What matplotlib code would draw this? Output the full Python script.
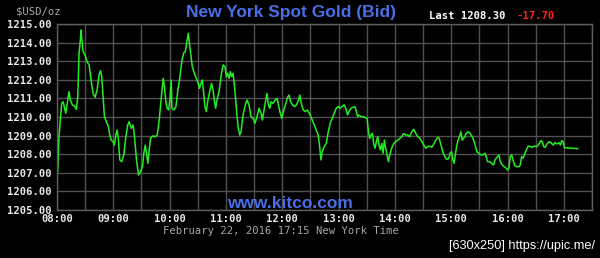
import matplotlib
matplotlib.use('Agg')
import matplotlib.pyplot as plt
from matplotlib.ticker import MultipleLocator, FuncFormatter

# Spot gold bid, minutes after 08:00 (New York time) and price in USD/oz
minutes = [0.7, 2.1, 5.0, 6.4, 7.8, 9.3, 10.7, 12.8, 14.2, 16.4, 18.5, 20.6, 22.1, 23.5, 24.9, 25.6,
           26.3, 27.8, 29.9, 32.0, 34.2, 36.3, 38.4, 40.6, 42.7, 44.8, 46.3, 47.7, 49.1, 50.5, 52.7,
           54.8, 56.2, 57.7, 59.8, 61.2, 62.6, 64.1, 65.5, 66.9, 69.0, 71.2, 73.3, 75.4, 76.9, 79.0,
           81.1, 82.6, 84.7, 86.8, 89.0, 91.1, 92.5, 94.0, 95.4, 96.8, 98.2, 99.6, 101.8, 104.6, 106.8,
           108.9, 111.0, 113.2, 114.6, 116.0, 117.4, 118.9, 120.3, 121.7, 122.4, 124.6, 126.7, 128.8,
           131.0, 133.1, 135.2, 136.7, 138.4, 139.9, 141.3, 142.7, 144.1, 146.3, 148.4, 150.5, 151.9,
           153.4, 154.8, 156.2, 157.6, 159.1, 160.5, 162.6, 164.7, 166.2, 167.6, 169.0, 170.5, 172.6,
           174.7, 176.9, 179.0, 180.4, 181.8, 183.3, 184.7, 186.1, 187.5, 189.0, 190.4, 191.8, 193.2,
           194.7, 196.1, 197.5, 198.9, 201.1, 202.4, 204.6, 206.7, 208.9, 211.0, 213.1, 215.3, 217.4,
           218.8, 220.9, 222.4, 223.8, 225.2, 226.7, 228.1, 230.2, 232.4, 234.5, 235.9, 237.4, 239.5,
           241.6, 243.8, 245.9, 247.3, 248.8, 250.9, 253.0, 255.2, 257.3, 258.7, 260.2, 262.3, 264.4,
           266.6, 269.8, 271.9, 274.1, 276.2, 278.3, 279.7, 281.2, 282.6, 284.7, 286.9, 289.0, 291.1,
           293.3, 295.4, 297.5, 299.7, 301.8, 304.0, 306.1, 308.2, 309.6, 311.1, 313.2, 315.3, 317.5,
           318.9, 320.3, 321.7, 323.9, 326.0, 328.2, 330.3, 331.7, 333.1, 334.6, 336.0, 337.4, 338.8,
           340.3, 341.7, 343.1, 344.5, 346.0, 347.4, 348.8, 350.2, 351.6, 353.1, 354.5, 356.6, 358.8,
           360.9, 363.0, 365.2, 367.3, 369.4, 371.6, 373.7, 375.8, 378.0, 380.1, 382.2, 384.4, 386.5,
           388.7, 390.8, 392.9, 395.1, 397.2, 399.3, 401.5, 403.6, 405.7, 407.2, 408.6, 411.0, 413.2,
           415.3, 417.4, 418.9, 420.3, 421.7, 423.1, 424.6, 426.0, 427.4, 428.8, 430.3, 431.7, 433.1,
           434.5, 435.9, 438.1, 440.2, 442.4, 444.5, 445.9, 447.3, 449.5, 451.6, 453.7, 455.9, 457.3,
           458.7, 460.9, 463.0, 465.1, 466.6, 468.0, 469.4, 470.8, 472.3, 474.4, 476.5, 478.7, 480.1,
           481.5, 482.9, 484.4, 485.8, 487.9, 490.0, 492.2, 493.6, 495.0, 496.5, 497.9, 500.0, 502.1,
           504.3, 506.4, 508.6, 510.7, 512.1, 514.2, 515.7, 517.1, 518.5, 519.9, 522.1, 524.2, 526.3,
           528.5, 530.6, 532.7, 534.9, 536.3, 537.7, 539.2, 540.6, 554.8]
prices = [1207.06, 1208.94, 1210.73, 1210.82, 1210.56, 1210.20, 1210.65, 1211.36, 1210.91, 1210.65,
          1210.59, 1210.41, 1211.09, 1213.42, 1214.14, 1214.68, 1214.23, 1213.51, 1213.33, 1212.97,
          1212.80, 1211.99, 1211.27, 1211.06, 1211.45, 1212.26, 1212.49, 1212.17, 1211.09, 1210.02,
          1209.75, 1209.48, 1209.03, 1208.76, 1208.67, 1208.49, 1209.03, 1209.30, 1208.76, 1207.69,
          1207.60, 1207.96, 1208.94, 1209.57, 1209.75, 1209.39, 1209.57, 1208.94, 1207.69, 1206.88,
          1207.06, 1207.33, 1208.05, 1208.49, 1208.05, 1207.51, 1208.23, 1208.85, 1208.98, 1208.94,
          1209.03, 1209.84, 1211.00, 1212.08, 1211.54, 1210.82, 1210.47, 1210.38, 1210.91, 1211.99,
          1210.47, 1210.38, 1210.56, 1211.45, 1212.17, 1213.06, 1213.46, 1213.51, 1214.05, 1214.50,
          1213.87, 1213.33, 1212.71, 1212.35, 1212.08, 1211.81, 1211.54, 1211.81, 1211.99, 1211.36,
          1210.56, 1210.29, 1210.82, 1211.36, 1211.81, 1211.45, 1210.91, 1210.47, 1210.91, 1211.36,
          1212.17, 1212.80, 1212.71, 1212.17, 1212.35, 1212.08, 1212.44, 1212.17, 1212.35, 1211.72,
          1210.91, 1210.02, 1209.39, 1209.03, 1209.21, 1209.84, 1210.29, 1210.73, 1210.91, 1210.65,
          1210.02, 1209.93, 1209.66, 1210.02, 1210.47, 1210.20, 1209.84, 1210.47, 1210.91, 1211.27,
          1210.65, 1210.47, 1210.82, 1210.73, 1210.91, 1211.00, 1210.65, 1210.29, 1209.93, 1210.38,
          1210.73, 1211.09, 1211.18, 1210.82, 1210.65, 1210.56, 1210.65, 1210.91, 1211.18, 1210.73,
          1210.38, 1210.29, 1210.38, 1210.11, 1209.84, 1209.57, 1209.30, 1209.03, 1208.49, 1207.69,
          1208.14, 1208.41, 1208.58, 1209.21, 1209.66, 1209.93, 1210.20, 1210.47, 1210.56, 1210.47,
          1210.59, 1210.65, 1210.38, 1210.11, 1210.29, 1210.47, 1210.52, 1210.56, 1210.29, 1210.02,
          1210.11, 1210.02, 1210.02, 1209.98, 1209.93, 1209.30, 1208.85, 1209.03, 1209.12, 1208.58,
          1208.32, 1208.67, 1208.94, 1208.49, 1208.23, 1208.58, 1208.05, 1208.76, 1208.32, 1207.96,
          1207.60, 1207.96, 1208.32, 1208.58, 1208.67, 1208.76, 1208.85, 1208.94, 1209.12, 1209.03,
          1209.03, 1208.94, 1209.21, 1209.34, 1209.12, 1208.94, 1208.85, 1208.67, 1208.49, 1208.32,
          1208.41, 1208.44, 1208.37, 1208.55, 1208.76, 1208.91, 1208.85, 1208.58, 1208.14, 1207.87,
          1207.72, 1207.78, 1208.05, 1208.14, 1207.69, 1207.51, 1208.05, 1208.49, 1208.76, 1208.94,
          1209.21, 1208.76, 1208.85, 1208.94, 1209.12, 1209.21, 1209.12, 1208.94, 1208.67, 1208.41,
          1208.14, 1208.05, 1207.96, 1207.96, 1208.05, 1207.87, 1207.60, 1207.60, 1207.51, 1207.42,
          1207.69, 1207.78, 1207.87, 1207.96, 1207.60, 1207.42, 1207.33, 1207.24, 1207.15, 1207.24,
          1207.87, 1207.96, 1207.69, 1207.37, 1207.33, 1207.33, 1207.42, 1207.87, 1207.78, 1207.96,
          1208.23, 1208.44, 1208.41, 1208.37, 1208.44, 1208.41, 1208.44, 1208.62, 1208.73, 1208.67,
          1208.41, 1208.37, 1208.55, 1208.67, 1208.62, 1208.49, 1208.62, 1208.55, 1208.62, 1208.49,
          1208.73, 1208.67, 1208.35, 1208.30]

hour_labels = ['08:00', '09:00', '10:00', '11:00', '12:00', '13:00', '14:00', '15:00', '16:00', '17:00']

# colours
BG = 'black'
GRID = '#505050'
LINE = '#22ee22'
BLUE = '#4a6ee6'
LIGHT = '#e8e8e8'
GREY = '#a8a8a8'

mono = 'DejaVu Sans Mono'
sans = 'Liberation Sans'

fig = plt.figure(figsize=(6.0, 2.58), dpi=100, facecolor=BG)
ax = fig.add_axes([57 / 600, 48 / 258, 535 / 600, 186 / 258], facecolor=BG)

ax.plot(minutes, prices, color=LINE, linewidth=1.1)

ax.set_xlim(0, 570)
ax.set_ylim(1205, 1215)

# hourly labels, half-hour grid
ax.set_xticks(range(0, 60 * len(hour_labels), 60))
ax.set_xticklabels(hour_labels)
ax.xaxis.set_minor_locator(MultipleLocator(30))
ax.yaxis.set_major_locator(MultipleLocator(1))
ax.yaxis.set_major_formatter(FuncFormatter(lambda v, p: f'{v:.2f}'))
ax.grid(True, which='both', color=GRID, linewidth=1.0)
ax.set_axisbelow(True)

ax.tick_params(which='both', length=0, colors=LIGHT)
ax.tick_params(axis='y', pad=4)
ax.tick_params(axis='x', pad=3)
for lbl in ax.get_xticklabels() + ax.get_yticklabels():
    lbl.set_fontfamily(mono)
    lbl.set_fontweight('bold')
    lbl.set_fontsize(7.6)
    lbl.set_color(LIGHT)

for side in ax.spines.values():
    side.set_color('#5e5e5e')
    side.set_linewidth(1.0)

# header texts
fig.text(38 / 600, 1 - 11 / 258, '$USD/oz', ha='center', va='center',
         family=mono, fontsize=7.6, color=GREY)
fig.text(291 / 600, 1 - 12 / 258, 'New York Spot Gold (Bid)', ha='center', va='center',
         family=sans, fontweight='bold', fontsize=12.5, color=BLUE)
fig.text(429 / 600, 1 - 16 / 258, 'Last 1208.30', ha='left', va='center',
         family=mono, fontweight='bold', fontsize=7.6, color='white')
fig.text(517 / 600, 1 - 16 / 258, '-17.70', ha='left', va='center',
         family=mono, fontweight='bold', fontsize=7.6, color='#ff2020')

# watermark and footer
fig.text(290 / 600, 1 - 204 / 258, 'www.kitco.com', ha='center', va='center',
         family=sans, fontweight='bold', fontsize=12.5, color=BLUE)
fig.text(281 / 600, 1 - 231 / 258, 'February 22, 2016 17:15 New York Time', ha='center', va='center',
         family=mono, fontsize=7.6, color=GREY)
fig.text(595 / 600, 1 - 246 / 258, '[630x250] https://upic.me/', ha='right', va='center',
         family=sans, fontsize=9.2, color='white')

fig.savefig('out.png', dpi=100, facecolor=BG)
